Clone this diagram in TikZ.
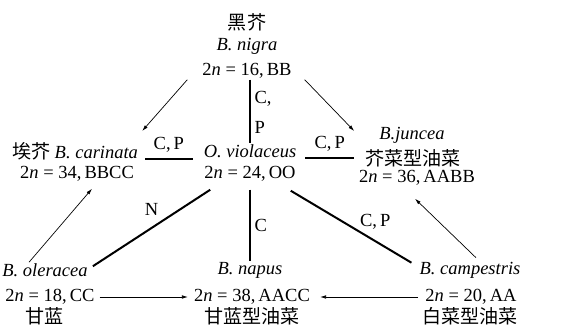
\documentclass[tikz,border=0pt]{standalone}
\usepackage{fontspec}
\setmainfont{Liberation Serif}
\newfontfamily\zh{Noto Sans CJK SC}[Scale=1.03]
\usetikzlibrary{arrows.meta,calc}

\begin{document}
\begin{tikzpicture}[x=1pt,y=-1pt,>={Latex[length=6pt,width=3.6pt]},
    lbl/.style={inner sep=1pt,font=\fontsize{18.5}{21}\selectfont},
    arr/.style={->,line width=0.7pt},
    thinline/.style={line width=1.3pt},
    thickline/.style={line width=2pt}]
  \useasboundingbox (0,0) rectangle (568,328);
  \node[lbl] (heijie) at (247,22) {\zh 黑芥};
  \node[lbl] (nigra) at (247,46) {\textit{B. nigra}};
  \node[lbl] (nigraN) at (247,71) {2\textit{n} = 16,\,BB};
  \node[lbl] (carinata) at (75,151) {{\zh 埃芥} \textit{B. carinata}};
  \node[lbl] (carinataN) at (77,174) {2\textit{n} = 34,\,BBCC};
  \node[lbl] (violaceus) at (250,151) {\textit{O. violaceus}};
  \node[lbl] (violaceusN) at (250,174) {2\textit{n} = 24,\,OO};
  \node[lbl] (juncea) at (412,135) {\textit{B.juncea}};
  \node[lbl] (junceaCN) at (413,158) {\zh 芥菜型油菜};
  \node[lbl] (junceaN) at (417,178) {2\textit{n} = 36,\,AABB};
  \node[lbl] (oleracea) at (45,270) {\textit{B. oleracea}};
  \node[lbl] (oleraceaN) at (50,297) {2\textit{n} = 18,\,CC};
  \node[lbl] (ganlan) at (45,316) {\zh 甘蓝};
  \node[lbl] (napus) at (250,270) {\textit{B. napus}};
  \node[lbl] (napusN) at (252,297) {2\textit{n} = 38,\,AACC};
  \node[lbl] (napusCN) at (252,316) {\zh 甘蓝型油菜};
  \node[lbl] (campestris) at (470,270) {\textit{B. campestris}};
  \node[lbl] (campestrisN) at (471,297) {2\textit{n} = 20,\,AA};
  \node[lbl] (campestrisCN) at (470,316) {\zh 白菜型油菜};

  \draw[arr] ([xshift=-14pt]nigraN.south west) -- ([xshift=3pt,yshift=10pt]carinata.north east);
  \draw[arr] ([xshift=12pt]nigraN.south east) -- ([xshift=-24pt,yshift=4pt]juncea.west);
  \draw[thinline] (violaceus.north |- nigraN.south) -- (violaceus.north)
    node[lbl,pos=0.3,right=3pt] {C,}
    node[lbl,pos=0.75,right=3pt] {P};
  \draw[thickline] ([xshift=6pt,yshift=-8pt]carinata.east) -- ([xshift=-10pt,yshift=-8pt]violaceus.west)
    node[lbl,midway,above=5pt] {C,\,P};
  \draw[thickline] ([xshift=8pt,yshift=-7pt]violaceus.east) -- ([xshift=-10pt]junceaCN.west)
    node[lbl,midway,above=5pt] {C,\,P};
  \draw[arr] ([xshift=-16pt]oleracea.north) -- ([xshift=15pt,yshift=-6pt]carinataN.south);
  \draw[thickline] ([xshift=4pt,yshift=-4pt]oleracea.north east) -- ([xshift=7pt,yshift=-7pt]violaceusN.south west)
    node[lbl,midway,above=10pt] {N};
  \draw[thinline] ([yshift=-7pt]napus.north |- violaceusN.south) -- (napus.north)
    node[lbl,midway,right=3pt] {C};
  \draw[thickline] ([xshift=-6pt,yshift=-8pt]violaceusN.south east) -- ([xshift=-7pt,yshift=-2pt]campestris.north west)
    node[lbl,pos=0.7,above=10pt] {C,\,P};
  \draw[arr] ([xshift=6pt,yshift=3pt]campestris.north) -- ([xshift=-2pt,yshift=-12pt]junceaN.south);
  \draw[arr] ([xshift=4pt]oleraceaN.east) -- ([xshift=-5pt]napusN.west);
  \draw[arr] ([xshift=-6pt]campestrisN.west) -- ([xshift=9pt]napusN.east);
\end{tikzpicture}
\end{document}
